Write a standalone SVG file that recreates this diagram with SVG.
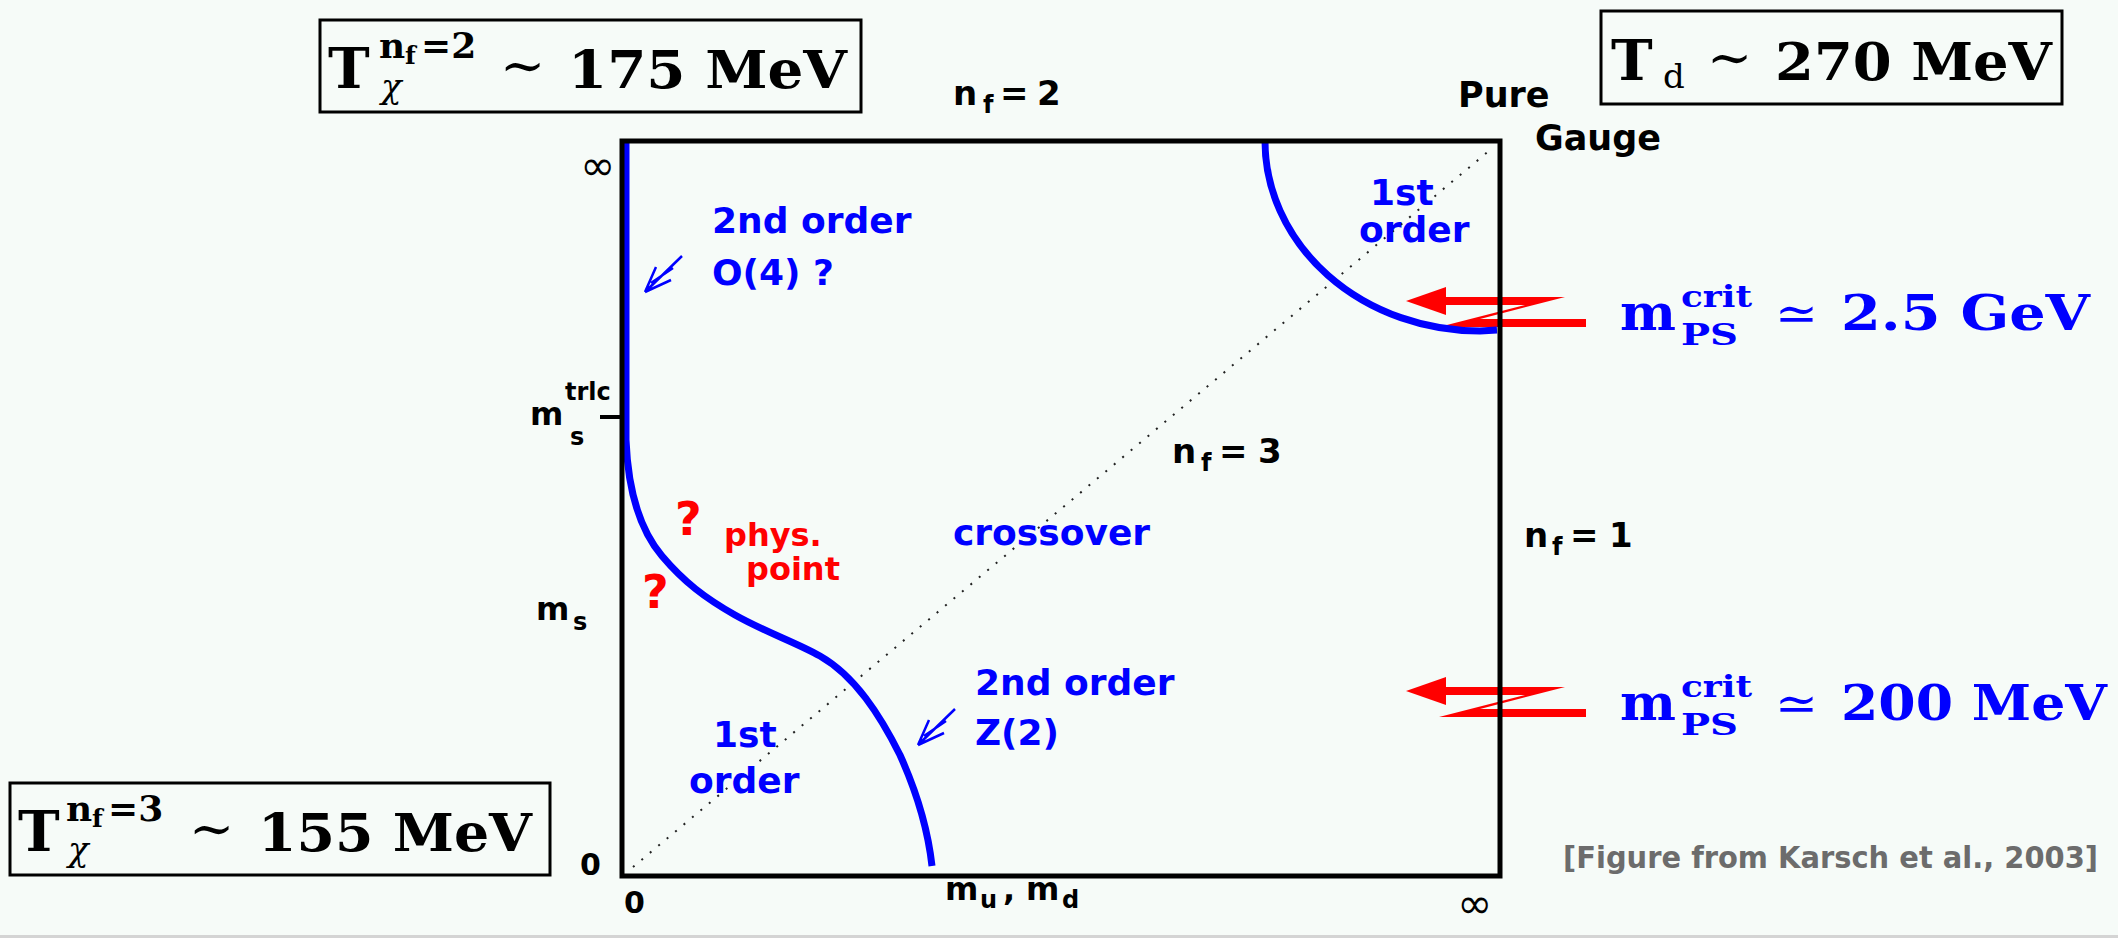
<svg xmlns="http://www.w3.org/2000/svg" width="2118" height="938" viewBox="0 0 2118 938">
<style>
.lbl{font-family:"DejaVu Sans","Liberation Sans",sans-serif;font-weight:bold}
.k{fill:#000}.b{fill:#0000ff}.r{fill:#ff0000}
.tex{font-family:"DejaVu Serif","Liberation Serif",serif;font-weight:bold}
.sym{font-family:"DejaVu Sans","Liberation Sans",sans-serif;font-weight:normal}
.boxr{fill:none;stroke:#000;stroke-width:3}
.curve{fill:none;stroke:#0000ff;stroke-width:7}
.zarrow{fill:#ff0000}
.cite{font-family:"DejaVu Sans","Liberation Sans",sans-serif;font-weight:bold;fill:#6c6c6c}
</style>
<defs>
<path id="dblarrow" d="M0,0 L37,-36 M0,0 L11,-25 M0,0 L26,-12 M6,-9 L28,-24" fill="none" stroke="#0000ff" stroke-width="2.5"/>
<g id="zshape">
<polygon points="1444,297 1565,297 1480,319 1586,319 1586,327 1439,327 1525,305 1444,305"/>
<polygon points="1406,301 1446,287 1446,315"/>
</g>
</defs>
<rect x="0" y="0" width="2118" height="938" fill="#f6fbf8"/>
<rect x="0" y="935" width="2118" height="3" fill="#d4d4d4"/>

<g id="connectors">
<line id="diagonal" x1="633" y1="867" x2="1490" y2="150" stroke="#222" stroke-width="2" stroke-dasharray="2 9"/>
<g id="red-arrows" class="zarrow">
<use href="#zshape"/>
<use href="#zshape" transform="translate(0,390)"/>
</g>
<path id="curve-left" class="curve" d="M626,141 L626,440 C628,490 640,530 662,556 C684,582 705,598 735,615 C765,632 795,642 820,656 C855,676 880,715 900,755 C918,795 928,830 932,866"/>
<path id="curve-right" class="curve" d="M1265,141 A215,190 0 0 0 1480,331 L1497,330"/>
<use href="#dblarrow" transform="translate(645,292)"/>
<use href="#dblarrow" transform="translate(918,745)"/>
</g>

<g id="plot-frame">
<rect x="622" y="141" width="878" height="735" fill="none" stroke="#000" stroke-width="5"/>
<line x1="600" y1="417" x2="622" y2="417" stroke="#000" stroke-width="4"/>
</g>

<g id="axis-labels" class="lbl k">
<text class="sym" x="580" y="180" font-size="42">∞</text>
<text x="530" y="425" font-size="32">m</text>
<text x="565" y="400" font-size="24">trlc</text>
<text x="570" y="445" font-size="24">s</text>
<text x="536" y="620" font-size="32">m</text>
<text x="573" y="630" font-size="24">s</text>
<text x="580" y="875" font-size="30">0</text>
<text x="624" y="913" font-size="30">0</text>
<text x="945" y="900" font-size="32">m</text>
<text x="980" y="908" font-size="24">u</text>
<text x="1003" y="900" font-size="32">,</text>
<text x="1026" y="900" font-size="32">m</text>
<text x="1062" y="908" font-size="24">d</text>
<text class="sym" x="1457" y="918" font-size="42">∞</text>
</g>

<g id="nf2" class="lbl k" font-size="34">
<text x="953" y="105">n</text><text x="983" y="113" font-size="24">f</text><text x="1000" y="105">=</text><text x="1037" y="105">2</text>
</g>
<g id="nf3" class="lbl k" font-size="34">
<text x="1172" y="463">n</text><text x="1201" y="471" font-size="24">f</text><text x="1219" y="463">=</text><text x="1258" y="463">3</text>
</g>
<g id="nf1" class="lbl k" font-size="34">
<text x="1524" y="547">n</text><text x="1552" y="555" font-size="24">f</text><text x="1570" y="547">=</text><text x="1609" y="547">1</text>
</g>
<g id="pure-gauge" class="lbl k" font-size="35">
<text x="1458" y="107">Pure</text>
<text x="1535" y="150">Gauge</text>
</g>

<g id="o4-label" class="lbl b" font-size="36">
<text x="712" y="233">2nd order</text>
<text x="712" y="285">O(4) ?</text>
</g>
<g id="first-order-top" class="lbl b" font-size="36">
<text x="1370" y="205">1st</text>
<text x="1359" y="242">order</text>
</g>
<g id="crossover" class="lbl b" font-size="36">
<text x="953" y="545">crossover</text>
</g>
<g id="z2-label" class="lbl b" font-size="36">
<text x="975" y="695">2nd order</text>
<text x="975" y="745">Z(2)</text>
</g>
<g id="first-order-bottom" class="lbl b" font-size="36">
<text x="713" y="747">1st</text>
<text x="689" y="793">order</text>
</g>
<g id="phys-point" class="lbl r">
<text x="675" y="535" font-size="46">?</text>
<text x="642" y="608" font-size="46">?</text>
<text x="724" y="546" font-size="32">phys.</text>
<text x="746" y="580" font-size="32">point</text>
</g>

<g id="box-tchi2">
<rect class="boxr" x="320" y="20" width="541" height="92"/>
<g class="tex k">
<text x="328" y="88" font-size="56">T</text>
<text x="379" y="58" font-size="36">n</text><text x="405" y="64" font-size="25">f</text><text x="421" y="58" font-size="36">=2</text>
<text x="381" y="98" font-size="34" font-style="italic" font-weight="normal">χ</text>
<text x="500" y="84" font-size="54" font-weight="normal">∼</text>
<text x="568" y="88" font-size="52" textLength="279" lengthAdjust="spacingAndGlyphs">175 MeV</text>
</g>
</g>

<g id="box-td">
<rect class="boxr" x="1601" y="11" width="461" height="93"/>
<g class="tex k">
<text x="1611" y="80" font-size="56">T</text>
<text x="1663" y="88" font-size="34" font-weight="normal">d</text>
<text x="1707" y="76" font-size="54" font-weight="normal">∼</text>
<text x="1775" y="80" font-size="52" textLength="277" lengthAdjust="spacingAndGlyphs">270 MeV</text>
</g>
</g>

<g id="box-tchi3">
<rect class="boxr" x="10" y="783" width="540" height="92"/>
<g class="tex k">
<text x="18" y="851" font-size="56">T</text>
<text x="66" y="821" font-size="36">n</text><text x="92" y="827" font-size="25">f</text><text x="108" y="821" font-size="36">=3</text>
<text x="68" y="861" font-size="34" font-style="italic" font-weight="normal">χ</text>
<text x="189" y="847" font-size="54" font-weight="normal">∼</text>
<text x="258" y="851" font-size="52" textLength="274" lengthAdjust="spacingAndGlyphs">155 MeV</text>
</g>
</g>

<g id="mps-upper" class="tex b">
<text x="1620" y="330" font-size="50" textLength="56" lengthAdjust="spacingAndGlyphs">m</text>
<text x="1681" y="307" font-size="30" textLength="71" lengthAdjust="spacingAndGlyphs">crit</text>
<text x="1681" y="345" font-size="30" textLength="57" lengthAdjust="spacingAndGlyphs">PS</text>
<text x="1775" y="330" font-size="48" font-weight="normal" textLength="43" lengthAdjust="spacingAndGlyphs">≃</text>
<text x="1841" y="330" font-size="48" textLength="249" lengthAdjust="spacingAndGlyphs">2.5 GeV</text>
</g>
<g id="mps-lower" class="tex b" transform="translate(0,390)">
<text x="1620" y="330" font-size="50" textLength="56" lengthAdjust="spacingAndGlyphs">m</text>
<text x="1681" y="307" font-size="30" textLength="71" lengthAdjust="spacingAndGlyphs">crit</text>
<text x="1681" y="345" font-size="30" textLength="57" lengthAdjust="spacingAndGlyphs">PS</text>
<text x="1775" y="330" font-size="48" font-weight="normal" textLength="43" lengthAdjust="spacingAndGlyphs">≃</text>
<text x="1841" y="330" font-size="48" textLength="266" lengthAdjust="spacingAndGlyphs">200 MeV</text>
</g>

<g id="citation">
<text class="cite" x="1563" y="868" font-size="30" textLength="535" lengthAdjust="spacingAndGlyphs">[Figure from Karsch et al., 2003]</text>
</g>
</svg>
